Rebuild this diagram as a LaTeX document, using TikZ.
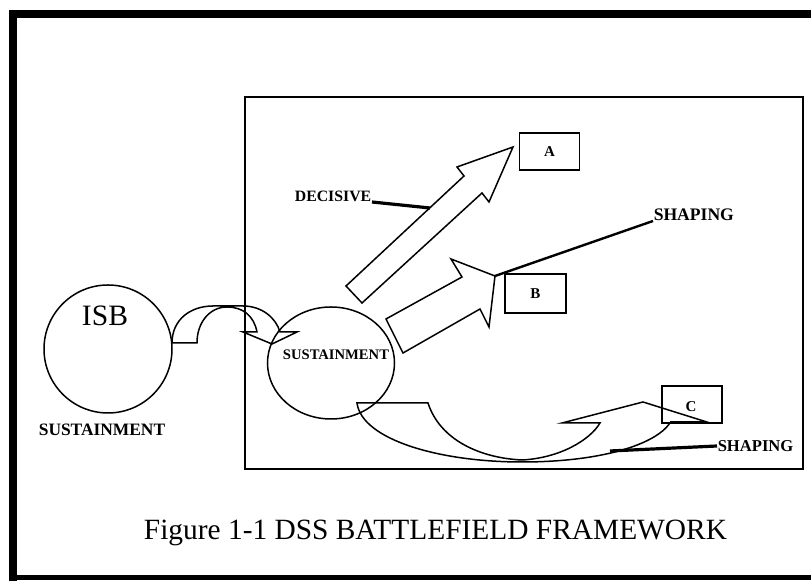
\documentclass[tikz,border=0pt]{standalone}
\usepackage{fontspec}
\setmainfont{Liberation Serif}

\begin{document}
\begin{tikzpicture}[x=0.5pt, y=-0.5pt, line width=0.75pt,
    lbl/.style={font=\bfseries\fontsize{#1}{#1}\selectfont, inner sep=0pt},
    leader/.style={line width=1.6pt},
    zone/.style={draw, minimum width=30pt, minimum height=18.5pt, inner sep=0pt,
        font=\bfseries\fontsize{7.5}{7.5}\selectfont}]
    \useasboundingbox (0, 0) rectangle (811, 581);
    % outer frame
    \draw[line width=4pt] (811, 14) -- (13, 14) -- (13, 581);
    \draw[line width=2.5pt] (13, 578) -- (811, 578);
    % battlefield
    \draw (245, 97) rectangle (803, 469);

    \node[draw, circle, minimum size=64pt, inner sep=0pt] (isb) at (108, 349) {};
    \node[font=\fontsize{14.8}{14.8}\selectfont, inner sep=0pt] (isbtxt) at (105, 316) {ISB};
    \node[lbl=8.7] (isblbl) at (102, 430) {SUSTAINMENT};

    \draw (331, 363) ellipse [x radius=63.5, y radius=56];
    \node[lbl=7.3] (dss) at (336, 355) {SUSTAINMENT};

    \node[zone] (boxA) at (549.5, 151.5) {A};
    \node[zone, minimum width=30.5pt, minimum height=19.5pt] (boxB) at (535.5, 293.5) {B};
    \node[zone] (boxC) at (692, 404.5) {};
    \node[font=\bfseries\fontsize{7.5}{7.5}\selectfont, inner sep=0pt] (ctxt) at (691, 407) {C};

    % ISB to sustainment
    \draw (172, 343) .. controls (172, 320) and (190, 306) .. (213, 306)
        -- (243, 306) .. controls (262, 306) and (276, 318) .. (280, 332)
        -- (297, 332) -- (272, 344) -- (243, 332) -- (257, 332)
        .. controls (254, 316) and (243, 307) .. (227, 307)
        .. controls (210, 307) and (197, 322) .. (197, 343) -- cycle;

    % decisive
    \draw (346, 286) -- (464, 176) -- (457, 167) -- (513, 147)
        -- (489, 202) -- (482, 193) -- (362, 303) -- cycle;
    \coordinate (decpt) at (430, 208);
    \node[lbl=7.9, anchor=base east] (declbl) at (372, 202) {DECISIVE};
    \draw[leader] (declbl.base east) -- (decpt);

    % shaping to B
    \draw (386, 319) -- (462, 277) -- (451, 259) -- (495, 276)
        -- (489, 327) -- (480, 309) -- (403, 353) -- cycle;
    \coordinate (shpt) at (495, 276);
    \node[lbl=8.8, anchor=base west] (shlbl) at (653, 221) {SHAPING};
    \draw[leader, line width=1.2pt] (shpt) -- (shlbl.base west);

    % shaping to C
    \draw (357, 403) -- (428, 403)
        .. controls (440, 440) and (480, 458) .. (522, 460)
        .. controls (560, 458) and (590, 440) .. (600, 423)
        -- (562, 423) -- (643, 402) -- (710, 423) -- (670, 423)
        .. controls (655, 445) and (600, 462) .. (522, 462)
        .. controls (440, 462) and (362, 440) .. (357, 403) -- cycle;
    \draw[leader, line width=1.4pt] (670, 422) -- (706, 422);
    \coordinate (shcpt) at (610, 451);
    \node[lbl=8.3, anchor=west] (shclbl) at (717, 446) {SHAPING};
    \draw[leader] (shcpt) -- (shclbl.west);

    \node[font=\fontsize{14.7}{14.7}\selectfont, inner sep=0pt, anchor=base] (cap) at (435.5, 540) {Figure 1-1 DSS BATTLEFIELD FRAMEWORK};
\end{tikzpicture}
\end{document}
